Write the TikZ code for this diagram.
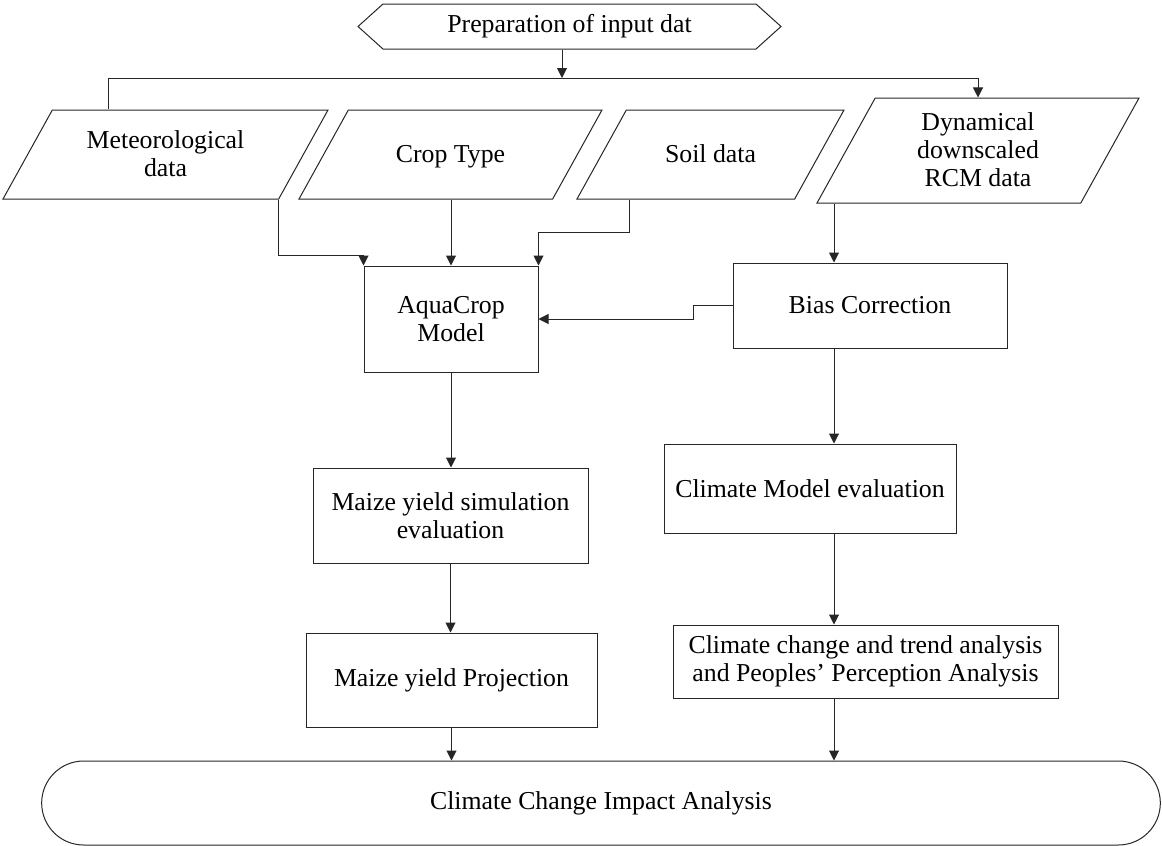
\documentclass[tikz,border=0pt]{standalone}
\usepackage{fontspec}
\setmainfont{Liberation Serif}
\usepackage{tikz}
\usetikzlibrary{positioning, calc, arrows.meta, shapes.geometric, shapes.symbols, shapes.misc}
% fixed-height label, so that the slant follows the full height
\newcommand{\iolabel}[2]{\vbox to #1{\vskip 2.5pt plus 1fill\hbox{\begin{tabular}{@{}c@{}}#2\end{tabular}}\vskip 0pt plus 1fill}}
\tikzset{
    process/.style={
        rectangle,
        draw,
        fill=white,
        align=center,
        inner sep=2pt
    },
    iodata/.style={
        trapezium,
        trapezium left angle=61,
        trapezium right angle=119,
        trapezium stretches body,
        draw,
        fill=white,
        inner xsep=2pt,
        inner ysep=0pt
    },
    prepbox/.style={
        signal,
        signal to=west and east,
        signal pointer angle=84,
        draw,
        align=center
    },
    endbox/.style={
        rounded rectangle,
        draw,
        align=center
    },
    ptr/.style={
        ->,
        >={Triangle[length=5pt, width=5pt]}
    }
}

\begin{document}
\begin{tikzpicture}[x=0.5pt, y=-0.5pt, line width=0.5pt, draw=black!85,
    every node/.style={font=\fontsize{12.9}{13.8}\selectfont}]
        \useasboundingbox (0,0) rectangle (1162,846);

        \node[prepbox, minimum width=211.5pt, minimum height=22.5pt] (prep) at (569.5,26.5) {Preparation of input dat};

        \node[iodata, minimum width=162.5pt] (met) at (165.5,154.5) {\iolabel{44.5pt}{Meteorological\\data}};
        \node[iodata, minimum width=151.5pt] (crop) at (450.5,154.5) {\iolabel{44.5pt}{Crop Type}};
        \node[iodata, minimum width=133.5pt] (soil) at (710.5,154.5) {\iolabel{44.5pt}{Soil data}};
        \node[iodata, minimum width=161pt] (dyn) at (978,150.5) {\iolabel{52.5pt}{Dynamical\\downscaled\\RCM data}};

        \node[process, minimum width=87pt, minimum height=53pt] (aqua) at (451,319) {AquaCrop\\Model};
        \node[process, minimum width=137pt, minimum height=42.5pt] (bias) at (870,305.5) {Bias Correction};
        \node[process, minimum width=137.5pt, minimum height=47.5pt] (mye) at (450.5,515.5) {Maize yield simulation\\evaluation};
        \node[process, minimum width=146pt, minimum height=44.5pt] (cme) at (810,488.5) {Climate Model evaluation};
        \node[process, minimum width=145.5pt, minimum height=47pt] (myp) at (451.5,680) {Maize yield Projection};
        \node[process, minimum width=192.5pt, minimum height=36.5pt] (cct) at (865.5,661.5) {Climate change and trend analysis\\and Peoples' Perception Analysis};

        \node[endbox, minimum width=566pt, minimum height=42pt] (impact) at (601,803) {Climate Change Impact Analysis};

        \coordinate (split) at (562,78);
        \coordinate (metin) at (108,78);
        \coordinate (rcol) at (834,0);

        \draw[ptr] (prep.south -| split) -- (split);
        \draw[ptr] (met.north -| metin) -- (metin) -| (dyn.north);

        \draw[ptr] (met.bottom right corner) |- ($(aqua.north west)+(0,-10)$) -- (aqua.north west);
        \draw[ptr] (crop.south -| aqua) -- (aqua.north);
        \draw[ptr] ($(soil.bottom left corner)+(53,0)$) |- ($(aqua.north east)+(0,-33)$) -- (aqua.north east);
        \draw[ptr] (dyn.south -| rcol) -- (bias.north -| rcol);
        \draw[ptr] (bias.west) -- ++(-39,0) |- (aqua.east);

        \draw[ptr] (aqua.south) -- (aqua.south |- mye.north);
        \draw[ptr] (mye.south) -- (mye.south |- myp.north);
        \draw[ptr] (myp.south) -- (myp.south |- impact.north);

        \draw[ptr] (bias.south -| rcol) -- (cme.north -| rcol);
        \draw[ptr] (cme.south -| rcol) -- (cct.north -| rcol);
        \draw[ptr] (cct.south -| rcol) -- (impact.north -| rcol);
    \end{tikzpicture}
\end{document}
